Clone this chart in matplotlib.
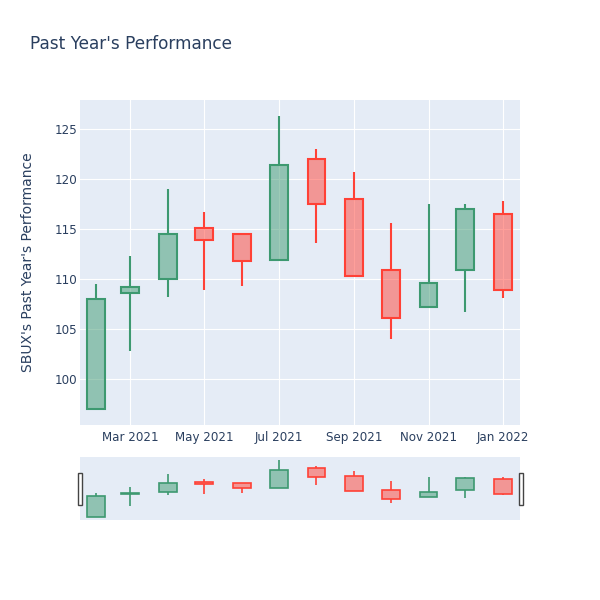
import datetime as dt
import matplotlib
matplotlib.use("Agg")
import matplotlib.pyplot as plt
import matplotlib.dates as mdates
from matplotlib.patches import Rectangle

# monthly OHLC
dates = [dt.date(2021, m, 1) for m in range(2, 13)] + [dt.date(2022, 1, 1)]
opens = [97.0, 108.6, 110.0, 115.1, 114.5, 111.9, 122.0, 118.0, 110.9, 107.2, 110.9, 116.5]
highs = [109.5, 112.3, 119.0, 116.7, 114.5, 126.3, 123.0, 120.7, 115.6, 117.5, 117.5, 117.8]
lows = [97.0, 102.8, 108.2, 108.9, 109.3, 111.9, 113.6, 110.3, 104.0, 107.2, 106.7, 108.1]
closes = [108.0, 109.2, 114.5, 113.9, 111.8, 121.4, 117.5, 110.3, 106.1, 109.6, 117.0, 108.9]

up_col = "#3D9970"
down_col = "#FF4136"
bg = "#E5ECF6"
txt = "#2a3f5f"

plt.rcParams['font.family'] = ['DejaVu Sans']

fig = plt.figure(figsize=(6, 6), dpi=100)
ax = fig.add_axes([80 / 600, 1 - 425 / 600, 440 / 600, 325 / 600])
sl = fig.add_axes([80 / 600, 1 - 520 / 600, 440 / 600, 63 / 600])

x = mdates.date2num(dates)
cols = [up_col if c >= o else down_col for o, c in zip(opens, closes)]
bot = [min(o, c) for o, c in zip(opens, closes)]
top = [max(o, c) for o, c in zip(opens, closes)]
hgt = [t - b for t, b in zip(top, bot)]


def draw(a, lw):
    a.vlines(x, lows, bot, colors=cols, linewidth=lw, zorder=2)
    a.vlines(x, top, highs, colors=cols, linewidth=lw, zorder=2)
    a.bar(x, hgt, bottom=bot, width=14.5, color=cols, alpha=0.5, linewidth=0, zorder=3)
    a.bar(x, hgt, bottom=bot, width=14.5, facecolor="none", edgecolor=cols,
          linewidth=lw, zorder=4)


xlim = (mdates.date2num(dt.date(2021, 1, 19)), mdates.date2num(dt.date(2022, 1, 15)))
ylim = (95.4, 127.9)

draw(ax, 1.5)
ax.set_facecolor(bg)
ax.set_xlim(xlim)
ax.set_ylim(ylim)
ax.set_yticks([100, 105, 110, 115, 120, 125])
ax.xaxis.set_major_locator(mdates.MonthLocator(bymonth=[1, 3, 5, 7, 9, 11]))
ax.xaxis.set_major_formatter(mdates.DateFormatter("%b %Y"))
ax.grid(True, color="white", linewidth=0.8)
ax.set_axisbelow(True)
ax.tick_params(length=0, labelsize=8.6, labelcolor=txt, pad=4)
ax.tick_params(axis="y", pad=2)
for s in ax.spines.values():
    s.set_visible(False)

draw(sl, 1.2)
sl.set_facecolor(bg)
sl.set_xlim(xlim)
sl.set_ylim(ylim)
sl.set_xticks([])
sl.set_yticks([])
for s in sl.spines.values():
    s.set_visible(False)

# range slider handles
for hx in (77.5 / 600, 518.5 / 600):
    fig.patches.append(Rectangle((hx, 1 - 505 / 600), 4 / 600, 32 / 600,
                                 transform=fig.transFigure, facecolor="white",
                                 edgecolor="#444444", linewidth=1))

fig.text(30 / 600, 1 - 44 / 600, "Past Year's Performance", fontsize=12.2,
         color=txt, va="center", ha="left")
fig.text(28 / 600, 1 - 262 / 600, "SBUX's Past Year's Performance", fontsize=10,
         color=txt, rotation=90, va="center", ha="center")

fig.savefig("out.png", dpi=100, facecolor="white")
